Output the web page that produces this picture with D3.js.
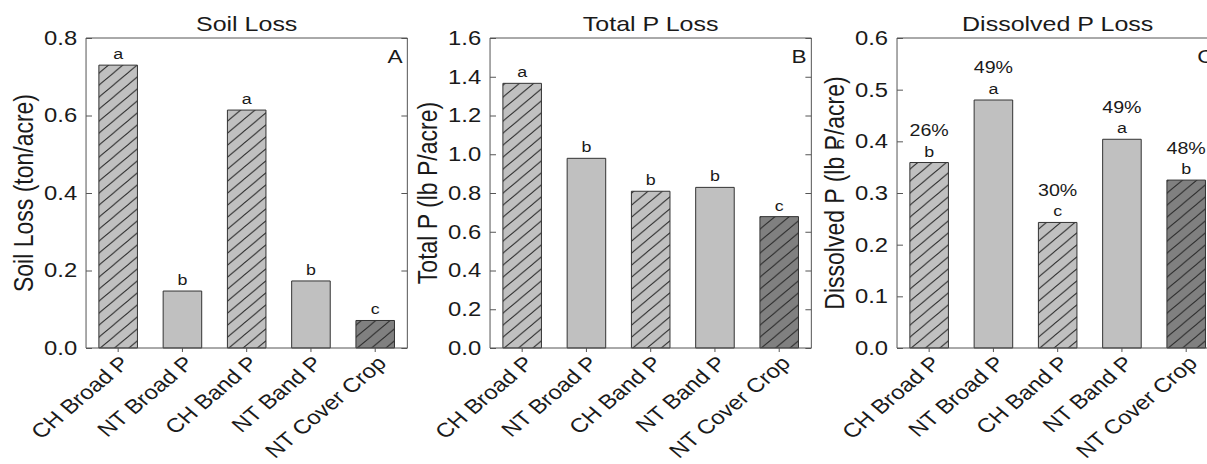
<!DOCTYPE html>
<html>
<head>
<meta charset="utf-8">
<script src="https://cdn.jsdelivr.net/npm/d3@7"></script>
<style>
    body { margin: 0; background: #fff; }
    text { font-family: "Liberation Sans", Arial, sans-serif; fill: #1a1a1a; }
    .frame { fill: none; stroke: #555; stroke-width: 1; }
    .axis line { stroke: #555; }
    .axis path { display: none; }
</style>
</head>
<body>
<script>
(function(){

    //chart data
    var categories = ["CH Broad P", "NT Broad P", "CH Band P", "NT Band P", "NT Cover Crop"];
    var soilLoss = [0.730, 0.147, 0.614, 0.173, 0.071];
    var totalP = [1.366, 0.979, 0.809, 0.829, 0.678];
    var dissolvedP = [0.359, 0.480, 0.243, 0.404, 0.325];
    var soilLetters = ["a", "b", "a", "b", "c"];
    var totalLetters = ["a", "b", "b", "b", "c"];
    var dissolvedLetters = ["b", "a", "c", "a", "b"];
    var dissolvedPct = ["26%", "49%", "30%", "49%", "48%"];
    var soilTicks = [0, 0.2, 0.4, 0.6, 0.8];
    var totalTicks = [0, 0.2, 0.4, 0.6, 0.8, 1.0, 1.2, 1.4, 1.6];
    var dissolvedTicks = [0, 0.1, 0.2, 0.3, 0.4, 0.5, 0.6];

    //fill style for each treatment
    var barFills = ["url(#hatchLight)", "#c0c0c0", "url(#hatchLight)", "#c0c0c0", "url(#hatchDark)"];

    //the source figure is stretched sideways, so draw in a squeezed space
    var stretch = 1.19;
    var width = 1207, height = 464;
    var plotTop = 38, plotBottom = 348, plotWidth = 270;

    var svg = d3.select("body")
        .append("svg")
        .attr("width", width)
        .attr("height", height);

    svg.append("rect")
        .attr("width", width)
        .attr("height", height)
        .attr("fill", "#fff");

    //hatch patterns
    var defs = svg.append("defs");
    makeHatch(defs, "hatchLight", "#c0c0c0");
    makeHatch(defs, "hatchDark", "#808080");

    var root = svg.append("g")
        .attr("transform", "scale(" + stretch + ",1)");

    setPanel(root, 72.3, soilLoss, soilTicks, soilLetters, null,
        "Soil Loss", "Soil Loss (ton/acre)", "A");
    setPanel(root, 411.8, totalP, totalTicks, totalLetters, null,
        "Total P Loss", "Total P (lb P/acre)", "B");
    var panelC = setPanel(root, 753.8, dissolvedP, dissolvedTicks, dissolvedLetters, dissolvedPct,
        "Dissolved P Loss", "Dissolved P (lb P/acre)", "C");

    //stray letter that sits in the y label of panel C in the original
    panelC.append("text")
        .attr("x", -51)
        .attr("y", panelC.yScale(0.4) + 7)
        .style("font-size", "14px")
        .text("c");

    function makeHatch(defs, id, color){
        var p = 12;
        var pat = defs.append("pattern")
            .attr("id", id)
            .attr("patternUnits", "userSpaceOnUse")
            .attr("width", p)
            .attr("height", p);
        pat.append("rect")
            .attr("width", p)
            .attr("height", p)
            .attr("fill", color);
        pat.append("path")
            .attr("d", "M0," + p + "L" + p + ",0M-2,2L2,-2M" + (p - 2) + "," + (p + 2) + "L" + (p + 2) + "," + (p - 2))
            .attr("stroke", "#2a2a2a")
            .attr("stroke-width", 0.9);
    };

    function setPanel(parent, left, values, ticks, letters, pcts, title, yLabel, tag){
        var g = parent.append("g")
            .attr("transform", "translate(" + left + ",0)");

        var x = d3.scaleBand()
            .domain(categories)
            .range([0, plotWidth])
            .paddingInner(0.4)
            .paddingOuter(0.2);

        var y = d3.scaleLinear()
            .domain([ticks[0], ticks[ticks.length - 1]])
            .range([plotBottom, plotTop]);

        //bars
        g.selectAll(".bars")
            .data(values)
            .enter()
            .append("rect")
            .attr("class", "bars")
            .attr("x", function(d, i){ return x(categories[i]); })
            .attr("width", x.bandwidth())
            .attr("y", function(d){ return y(d); })
            .attr("height", function(d){ return plotBottom - y(d); })
            .attr("fill", function(d, i){ return barFills[i]; })
            .attr("stroke", "#333")
            .attr("stroke-width", 1)
            .attr("vector-effect", "non-scaling-stroke");

        //significance letters
        g.selectAll(".letters")
            .data(values)
            .enter()
            .append("text")
            .attr("class", "letters")
            .attr("text-anchor", "middle")
            .attr("x", function(d, i){ return x(categories[i]) + x.bandwidth() / 2; })
            .attr("y", function(d){ return y(d) - 6; })
            .style("font-size", "15px")
            .text(function(d, i){ return letters[i]; });

        if (pcts){
            g.selectAll(".pcts")
                .data(values)
                .enter()
                .append("text")
                .attr("class", "pcts")
                .attr("text-anchor", "middle")
                .attr("x", function(d, i){ return x(categories[i]) + x.bandwidth() / 2; })
                .attr("y", function(d){ return y(d) - 26.5; })
                .style("font-size", "16.5px")
                .text(function(d, i){ return pcts[i]; });
        };

        //left axis with labels, inward ticks
        var leftAxis = g.append("g")
            .attr("class", "axis")
            .call(d3.axisLeft(y)
                .tickValues(ticks)
                .tickSizeInner(-5)
                .tickSizeOuter(0)
                .tickPadding(7.5)
                .tickFormat(d3.format(".1f")));
        leftAxis.selectAll("text")
            .style("font-size", "20px")
            .attr("fill", "#1a1a1a");
        leftAxis.selectAll("line").attr("vector-effect", "non-scaling-stroke");

        //right axis ticks only
        var rightAxis = g.append("g")
            .attr("class", "axis")
            .attr("transform", "translate(" + plotWidth + ",0)")
            .call(d3.axisRight(y)
                .tickValues(ticks)
                .tickSizeInner(-5)
                .tickSizeOuter(0)
                .tickFormat(""));
        rightAxis.selectAll("line").attr("vector-effect", "non-scaling-stroke");

        //bottom axis with slanted category names
        var bottomAxis = g.append("g")
            .attr("class", "axis")
            .attr("transform", "translate(0," + plotBottom + ")")
            .call(d3.axisBottom(x)
                .tickSizeInner(4)
                .tickSizeOuter(0));
        bottomAxis.selectAll("line").attr("vector-effect", "non-scaling-stroke");
        bottomAxis.selectAll("text")
            .style("font-size", "20px")
            .attr("fill", "#1a1a1a")
            .attr("text-anchor", "end")
            .attr("x", 0)
            .attr("y", 0)
            .attr("dy", 0)
            .attr("transform", "translate(10.5,16.5) rotate(-45)");

        //frame for plot border
        g.append("rect")
            .attr("class", "frame")
            .attr("x", 0)
            .attr("y", plotTop)
            .attr("width", plotWidth)
            .attr("height", plotBottom - plotTop)
            .attr("vector-effect", "non-scaling-stroke");

        //titles
        g.append("text")
            .attr("x", plotWidth / 2)
            .attr("y", 31.5)
            .attr("text-anchor", "middle")
            .style("font-size", "21px")
            .text(title);

        g.append("text")
            .attr("x", plotWidth - 4)
            .attr("y", 63)
            .attr("text-anchor", "end")
            .style("font-size", "19px")
            .text(tag);

        g.append("text")
            .attr("transform", "translate(-44.5," + (plotTop + plotBottom) / 2 + ") rotate(-90)")
            .attr("text-anchor", "middle")
            .style("font-size", "23px")
            .text(yLabel);

        g.yScale = y;
        return g;
    };

})();
</script>
</body>
</html>
